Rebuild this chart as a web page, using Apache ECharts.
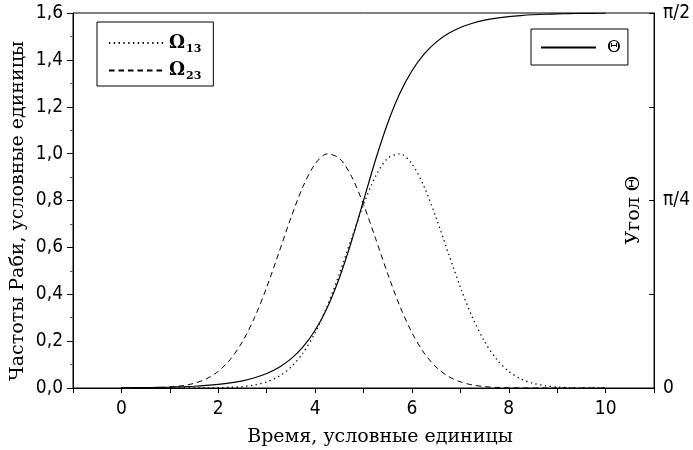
<!DOCTYPE html>
<html>
<head>
<meta charset="utf-8">
<script src="https://cdn.jsdelivr.net/npm/echarts@6/dist/echarts.min.js"></script>
<style>
html,body{margin:0;padding:0;background:#fff;}
#chart{width:693px;height:450px;}
</style>
</head>
<body>
<div id="chart"></div>
<script>
// time samples (x axis, условные единицы)
const times = [0,0.25,0.5,0.75,1,1.25,1.5,1.75,2,2.25,2.5,2.75,3,3.25,3.5,3.75,4,4.25,4.5,4.75,5,5.25,5.5,5.75,6,6.25,6.5,6.75,7,7.25,7.5,7.75,8,8.25,8.5,8.75,9,9.25,9.5,9.75,10];
// Rabi frequency Ω13 (dotted)
const omega13 = [0,0,0,0,0,0.0001,0.0001,0.0004,0.0011,0.0026,0.0060,0.0129,0.0261,0.0497,0.0889,0.1494,0.2357,0.3495,0.4868,0.6370,0.7827,0.9038,0.9802,0.9988,0.9560,0.8597,0.7261,0.5764,0.4296,0.3009,0.1979,0.1223,0.0710,0.0387,0.0198,0.0096,0.0043,0.0018,0.0007,0.0003,0.0001];
// Rabi frequency Ω23 (dashed)
const omega23 = [0.0001,0.0003,0.0007,0.0018,0.0043,0.0096,0.0198,0.0387,0.0710,0.1223,0.1979,0.3009,0.4296,0.5764,0.7261,0.8597,0.9560,0.9988,0.9802,0.9038,0.7827,0.6370,0.4868,0.3495,0.2357,0.1494,0.0889,0.0497,0.0261,0.0129,0.0060,0.0026,0.0011,0.0004,0.0001,0.0001,0,0,0,0,0];
// mixing angle Θ, radians (solid, right axis)
const theta = [0.0009,0.0013,0.0018,0.0026,0.0037,0.0052,0.0074,0.0106,0.0150,0.0213,0.0302,0.0428,0.0607,0.0861,0.1219,0.1721,0.2418,0.3365,0.4609,0.6137,0.7854,0.9571,1.1099,1.2343,1.3290,1.3987,1.4489,1.4847,1.5101,1.5280,1.5406,1.5495,1.5558,1.5602,1.5634,1.5656,1.5671,1.5682,1.5690,1.5695,1.5699];
// right axis tick labels (every π/8)
const rightTickLabels = ['0','','π/4','','π/2'];
const xTitle = 'Время, условные единицы';
const yLeftTitle = 'Частоты Раби, условные единицы';
const yRightTitle = 'Угол Θ';

const tickFont = "'Liberation Sans Narrow', 'DejaVu Sans Condensed', 'Liberation Sans', sans-serif";
const serif = "'DejaVu Serif', 'Liberation Serif', serif";

const chart = echarts.init(document.getElementById('chart'), null, {renderer:'canvas'});
const pairs = arr => times.map((t,i)=>[t, arr[i]]);

const richLegend = {
  o:{fontFamily:serif, fontSize:18, color:'#000', fontWeight:'bold'},
  t:{fontFamily:serif, fontSize:17, color:'#000', fontWeight:'normal'},
  s:{fontFamily:serif, fontSize:11, color:'#000', fontWeight:'bold', padding:[12,0,0,1]}
};
function legendFmt(name){
  if(name==='Ω13') return '{o|Ω}{s|13}';
  if(name==='Ω23') return '{o|Ω}{s|23}';
  return '{t|'+name+'}';
}
const hiddenSymbol = {color:'rgba(0,0,0,0)', borderWidth:0, borderColor:'rgba(0,0,0,0)'};

const option = {
  animation:false,
  backgroundColor:'#fff',
  grid:{left:73,right:37,top:13,bottom:62,show:true,borderColor:'#000',borderWidth:1,backgroundColor:'transparent'},
  legend:[
    {data:['Ω13','Ω23'], orient:'vertical', left:97, top:22, itemWidth:55, itemHeight:14, itemGap:7,
     padding:[12,12,4,11], borderColor:'#000', borderWidth:1, borderRadius:0,
     itemStyle:hiddenSymbol,
     formatter:legendFmt, textStyle:{rich:richLegend}, selectedMode:false},
    {data:['Θ'], orient:'vertical', left:531, top:29, itemWidth:55, itemHeight:14,
     padding:[10,7,9,9], borderColor:'#000', borderWidth:1, borderRadius:0,
     itemStyle:hiddenSymbol,
     formatter:legendFmt, textStyle:{rich:richLegend, padding:[0,0,0,6]}, selectedMode:false}
  ],
  xAxis:{type:'value', min:-1, max:11, interval:1,
    axisLine:{onZero:false, lineStyle:{color:'#000',width:1}},
    axisTick:{show:true, length:5, lineStyle:{color:'#000'}},
    axisLabel:{color:'#000', fontFamily:tickFont, fontSize:19, margin:12,
      formatter:v=> (Math.round(v)%2===0 && v>=0 && v<=10) ? String(Math.round(v)) : ''},
    splitLine:{show:false}},
  yAxis:[
    {type:'value', min:0, max:1.6, interval:0.2, position:'left',
     axisLine:{show:true, onZero:false, lineStyle:{color:'#000',width:1}},
     axisTick:{show:true, length:6, lineStyle:{color:'#000'}},
     minorTick:{show:true, splitNumber:2, length:3, lineStyle:{color:'#555'}},
     axisLabel:{color:'#000', fontFamily:tickFont, fontSize:19, margin:10,
       formatter:v=>v.toFixed(1).replace('.',',')},
     splitLine:{show:false}},
    {type:'value', min:0, max:Math.PI/2, interval:Math.PI/8, position:'right',
     axisLine:{show:true, onZero:false, lineStyle:{color:'#000',width:1}},
     axisTick:{show:true, inside:true, length:5, lineStyle:{color:'#000'}},
     axisLabel:{color:'#000', fontFamily:tickFont, fontSize:19, margin:9,
       formatter:v=>{const k=Math.round(v/(Math.PI/8)); return rightTickLabels[k]||'';}},
     splitLine:{show:false}}
  ],
  graphic:[
    {type:'text', x:18, y:211, rotation:Math.PI/2,
     style:{text:yLeftTitle, font:'19px '+serif, fill:'#000', textAlign:'center', textVerticalAlign:'middle'}},
    {type:'text', x:634, y:210, rotation:Math.PI/2,
     style:{text:yRightTitle, font:'19px '+serif, fill:'#000', textAlign:'center', textVerticalAlign:'middle'}},
    {type:'text', x:380, y:437,
     style:{text:xTitle, font:'19px '+serif, fill:'#000', textAlign:'center', textVerticalAlign:'middle'}}
  ],
  series:[
    {name:'Ω13', type:'line', yAxisIndex:0, data:pairs(omega13), symbol:'none', smooth:0.3,
     lineStyle:{color:'#000', width:1.3, type:[1.3,3.5]}, itemStyle:{color:'#000'}},
    {name:'Ω23', type:'line', yAxisIndex:0, data:pairs(omega23), symbol:'none', smooth:0.3,
     lineStyle:{color:'#000', width:1, type:[5.5,4]}, itemStyle:{color:'#000'}},
    {name:'Θ', type:'line', yAxisIndex:1, data:pairs(theta), symbol:'none', smooth:0.3,
     lineStyle:{color:'#000', width:1.2, type:'solid'}, itemStyle:{color:'#000'}}
  ]
};
chart.setOption(option);
</script>
</body>
</html>
